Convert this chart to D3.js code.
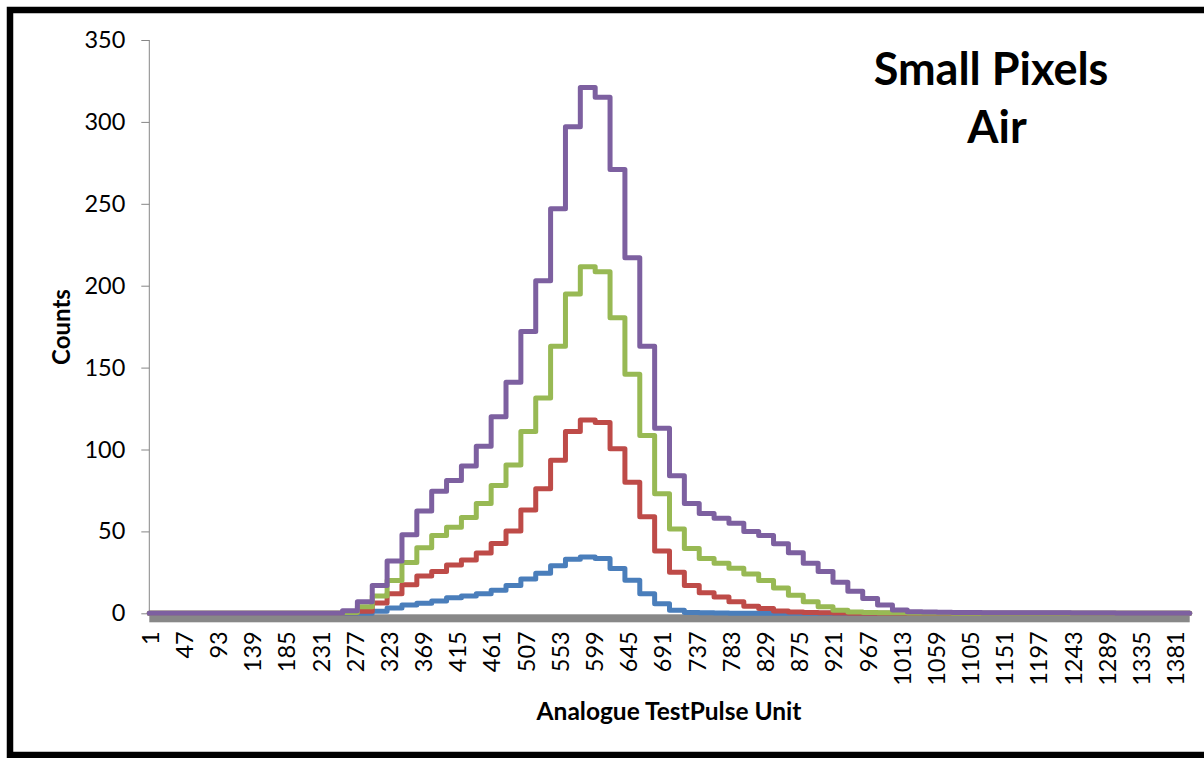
<!DOCTYPE html>
<html>
<head>
<meta charset="utf-8">
<script src="https://cdn.jsdelivr.net/npm/d3@7.9.0/dist/d3.min.js"></script>
<style>
  body { margin: 0; background: #fff; }
  svg { display: block; }
  .axis text { font-family: Lato, "Open Sans", sans-serif; font-size: 23.5px; fill: #000; }
  .axis path, .axis line { stroke: #868686; }
</style>
</head>
<body>
<svg id="chart" width="1204" height="758"></svg>
<script>
// histogram bins are 20 units wide, 70 bins over 1400 categories
const binWidth = 20;
const nCategories = 1400;

const blue = [0,0,0,0,0,0,0,0,0,0,0,0,0,0,0,1.2,3.3,5,6.2,7.5,9.5,10.5,12,14,17,21,24.5,29,33,34.4,33.4,27.3,20.2,12,5.8,1.8,0.5,0.3,0.2,0.1,0.1,0,0,0,0,0,0,0,0,0,0,0,0,0,0,0,0,0,0,0,0,0,0,0,0,0,0,0,0,0];
const red = [0,0,0,0,0,0,0,0,0,0,0,0,0,0.3,1.2,6.3,12,17.5,22.8,25.5,29.5,32.5,36.8,42.6,50.3,63,76,93.5,111,118,116.5,100.5,80,59,38,25,17,12.5,10,7,4.3,2.9,1.4,0.8,0.5,0.3,0.2,0.1,0.1,0,0,0,0,0,0,0,0,0,0,0,0,0,0,0,0,0,0,0,0,0];
const green = [0,0,0,0,0,0,0,0,0,0,0,0,0,0.5,4,10.5,20,31,40,47.5,52.5,58.5,67,78,90.5,111,131.5,163,195,211.5,208.5,180.5,146,108.5,73,51.5,39.5,33.5,30.5,27.5,24,20,15.5,11,7,4,1.8,0.8,0.5,0.3,0.3,0.2,0.2,0.2,0.1,0.1,0.1,0.1,0.1,0,0,0,0,0,0,0,0,0,0,0];
const purple = [0,0,0,0,0,0,0,0,0,0,0,0,0,1.5,7,17,32,48,62.5,74.5,81,90,102,120,141,172,203,247,297,321,315,271,217,163,113,84,67,61,58,55,50,47.5,42.5,37,30.5,25.5,19,13.5,9,5,2,1,0.8,0.6,0.5,0.5,0.4,0.4,0.4,0.3,0.3,0.3,0.2,0.2,0.2,0.1,0.1,0.1,0.1,0.1];

const seriesList = [
  { name: 'blue', values: blue, color: '#4a7ebb' },
  { name: 'red', values: red, color: '#be4b48' },
  { name: 'green', values: green, color: '#98b954' },
  { name: 'purple', values: purple, color: '#7d60a0' },
];

const yTicks = [0, 50, 100, 150, 200, 250, 300, 350];
const xTickLabels = d3.range(1, nCategories, 46); // 1, 47, 93 ... 1381

const svg = d3.select('#chart');

const x = d3.scaleLinear().domain([0, nCategories]).range([149.3, 1189.7]);
const y = d3.scaleLinear().domain([0, 350]).range([613.3, 40]);

// outer frame
svg.append('rect')
  .attr('x', 10).attr('y', 10)
  .attr('width', 1200).attr('height', 745)
  .attr('fill', 'none').attr('stroke', '#000').attr('stroke-width', 6.5);

// y axis
const yAxis = svg.append('g')
  .attr('class', 'axis')
  .attr('transform', `translate(${x(0)},0)`)
  .call(d3.axisLeft(y).tickValues(yTicks).tickSize(8).tickPadding(16).tickSizeOuter(0));
yAxis.select('.domain').attr('d', `M0,${y(350)}V${y(0)}`);

// thick grey horizontal axis
svg.append('rect')
  .attr('x', x(0)).attr('y', 614.3)
  .attr('width', x(nCategories) - x(0)).attr('height', 8)
  .attr('fill', '#888888');

// x axis labels (category centres)
const xAxis = svg.append('g')
  .attr('class', 'axis')
  .attr('transform', `translate(0,${y(0)})`)
  .call(d3.axisBottom(x).tickValues(xTickLabels.map(c => c - 0.5)).tickSize(0)
    .tickFormat((d) => String(d + 0.5)));
xAxis.select('.domain').remove();
xAxis.selectAll('text')
  .attr('transform', 'rotate(-90)')
  .attr('x', -18)
  .attr('y', 0)
  .attr('dy', '0.36em')
  .style('text-anchor', 'end');

// step lines
const line = d3.line()
  .x((d) => x(d.c))
  .y((d) => y(d.v))
  .curve(d3.curveStepAfter);

seriesList.forEach((s) => {
  const pts = s.values.map((v, i) => ({ c: i * binWidth, v }));
  pts.push({ c: nCategories, v: s.values[s.values.length - 1] });
  svg.append('path')
    .attr('d', line(pts))
    .attr('fill', 'none')
    .attr('stroke', s.color)
    .attr('stroke-width', 5)
    .attr('stroke-linejoin', 'round')
    .attr('stroke-linecap', 'round');
});

// axis titles
svg.append('text')
  .attr('transform', 'translate(70,327) rotate(-90)')
  .attr('text-anchor', 'middle')
  .style('font-family', 'Lato, sans-serif')
  .style('font-weight', 'bold')
  .style('font-size', '24px')
  .text('Counts');

svg.append('text')
  .attr('x', 669).attr('y', 720)
  .attr('text-anchor', 'middle')
  .style('font-family', 'Lato, sans-serif')
  .style('font-weight', 'bold')
  .style('font-size', '24.5px')
  .text('Analogue TestPulse Unit');

// chart title
const title = svg.append('text')
  .attr('text-anchor', 'middle')
  .style('font-family', 'Lato, sans-serif')
  .style('font-weight', 'bold')
  .style('font-size', '45px');
title.append('tspan').attr('x', 991).attr('y', 85).text('Small Pixels');
title.append('tspan').attr('x', 997).attr('y', 143).text('Air');
</script>
</body>
</html>
